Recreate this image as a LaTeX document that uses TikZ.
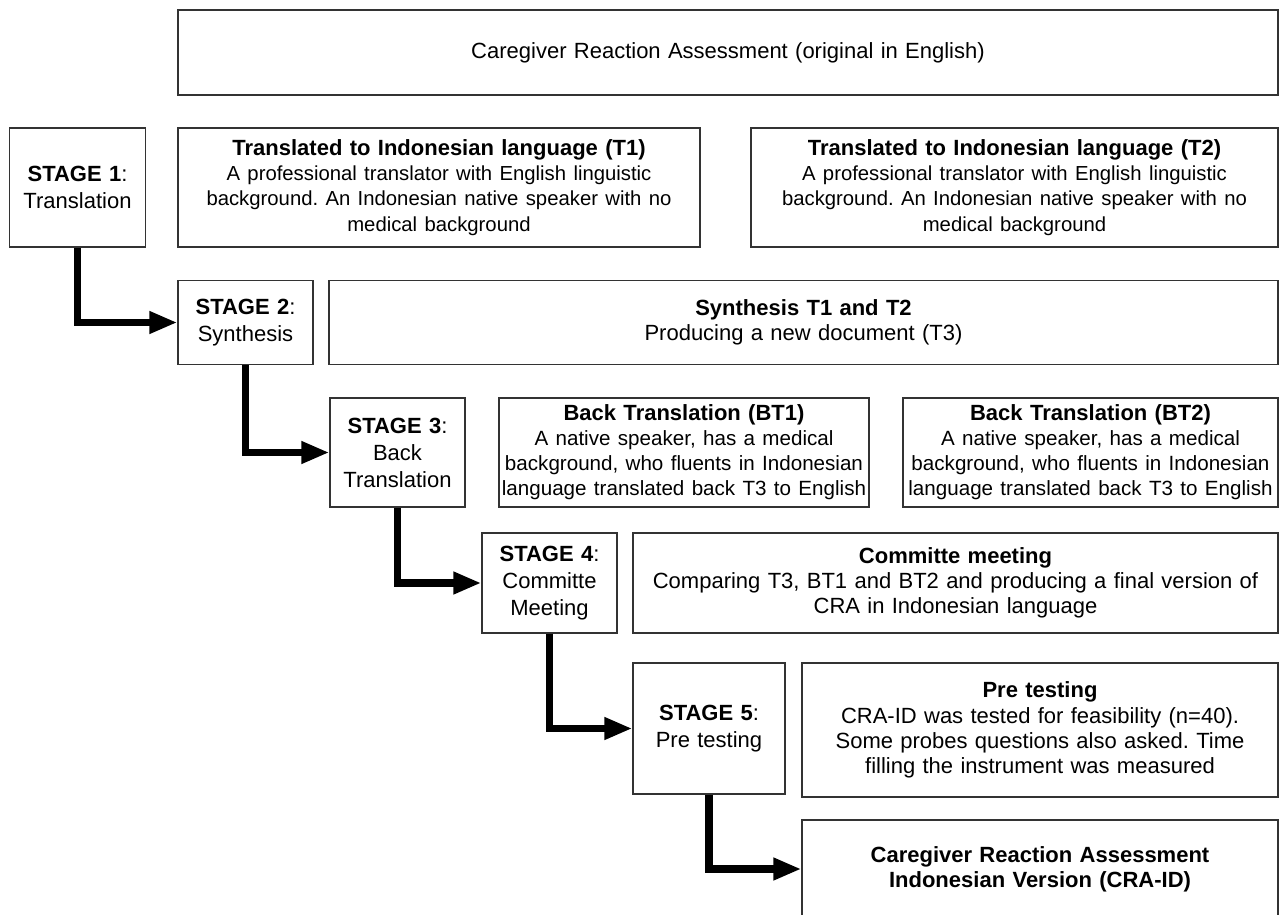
\documentclass[tikz,border=0pt]{standalone}
\usepackage{fontspec}
\setmainfont{Liberation Sans}
\usetikzlibrary{arrows.meta}
\frenchspacing
\def\bodysize#1{\fontsize{#1}{25}\selectfont}

\tikzset{
	box/.style={draw=black!80, line width=1.3pt, align=center, inner sep=0pt,
		font=\fontsize{22}{25.3}\selectfont},
	stagebox/.style={box, font=\fontsize{22}{27}\selectfont},
	flow/.style={line width=7.5pt, -{Triangle[length=28pt,width=21pt]}}
}

\begin{document}
\begin{tikzpicture}[x=1pt, y=-1pt]
		%%%%% START %%%%%
		\useasboundingbox (0, 0) rectangle (1282, 915);
		
		\node[box, minimum width=1100pt, minimum height=85pt, text width=1080pt] (orig) at (728, 52.5)
			{Caregiver Reaction Assessment (original in English)};
		
		% stage 1
		\node[stagebox, minimum width=136pt, minimum height=119pt, text width=130pt] (s1) at (77.5, 187.5)
			{\textbf{STAGE 1}:\\Translation};
		\node[box, minimum width=522pt, minimum height=119pt, text width=515pt] (t1) at (439, 187.5)
			{\textbf{Translated to Indonesian language (T1)}\\\bodysize{20.3}A professional translator with English linguistic\\background. An Indonesian native speaker with no\\medical background};
		\node[box, minimum width=527pt, minimum height=119pt, text width=520pt] (t2) at (1014.5, 187.5)
			{\textbf{Translated to Indonesian language (T2)}\\\bodysize{20.3}A professional translator with English linguistic\\background. An Indonesian native speaker with no\\medical background};
		
		% stage 2
		\node[stagebox, minimum width=135pt, minimum height=84pt, text width=130pt] (s2) at (245.5, 322.5)
			{\textbf{STAGE 2}:\\Synthesis};
		\node[box, minimum width=949pt, minimum height=84pt, text width=930pt] (syn) at (803.5, 322.5)
			{\textbf{Synthesis T1 and T2}\\Producing a new document (T3)};
		
		% stage 3
		\node[stagebox, minimum width=135pt, minimum height=109pt, text width=130pt] (s3) at (397.5, 452.5)
			{\textbf{STAGE 3}:\\Back\\Translation};
		\node[box, minimum width=370pt, minimum height=109pt, text width=370pt] (bt1) at (684, 452.5)
			{\textbf{Back Translation (BT1)}\\\bodysize{20.6}A native speaker, has a medical\\background, who fluents in Indonesian\\language translated back T3 to English};
		\node[box, minimum width=375pt, minimum height=109pt, text width=375pt] (bt2) at (1090.5, 452.5)
			{\textbf{Back Translation (BT2)}\\\bodysize{20.6}A native speaker, has a medical\\background, who fluents in Indonesian\\language translated back T3 to English};
		
		% stage 4
		\node[stagebox, minimum width=135pt, minimum height=100pt, text width=130pt] (s4) at (549.5, 583)
			{\textbf{STAGE 4}:\\Committe\\Meeting};
		\node[box, minimum width=645pt, minimum height=100pt, text width=635pt] (com) at (955.5, 583)
			{\textbf{Committe meeting}\\Comparing T3, BT1 and BT2 and producing a final version of\\CRA in Indonesian language};
		
		% stage 5
		\node[stagebox, minimum width=152pt, minimum height=131pt, text width=145pt] (s5) at (709, 728.5)
			{\textbf{STAGE 5}:\\Pre testing};
		\node[box, minimum width=476pt, minimum height=134pt, text width=470pt] (pre) at (1040, 730)
			{\textbf{Pre testing}\\CRA-ID was tested for feasibility (n=40).\\Some probes questions also asked. Time\\filling the instrument was measured};
		
		% result, runs off the bottom
		\node[box, minimum width=476pt, minimum height=98pt, text width=470pt] (cra) at (1040, 869)
			{\textbf{Caregiver Reaction Assessment}\\\textbf{Indonesian Version (CRA-ID)}};
		
		\draw[flow] (s1.south) |- (s2.west);
		\draw[flow] (s2.south) |- (s3.west);
		\draw[flow] (s3.south) |- (s4.west);
		\draw[flow] (s4.south) |- (s5.west);
		\draw[flow] (s5.south) |- (cra.west);
		
		%%%%% END %%%%%
	\end{tikzpicture}
\end{document}
